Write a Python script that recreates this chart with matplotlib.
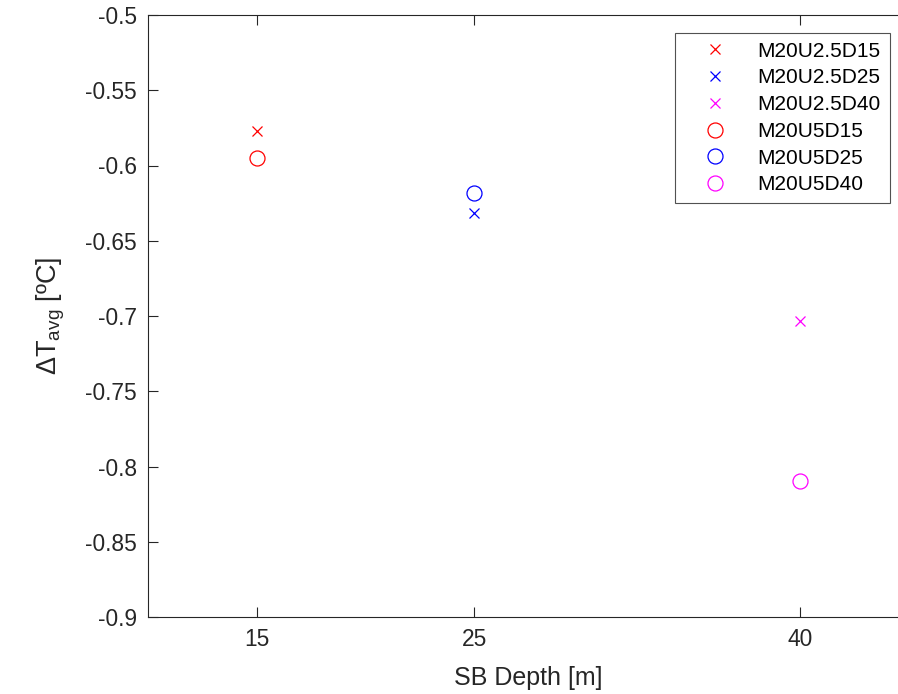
import matplotlib
matplotlib.use("Agg")
import matplotlib.pyplot as plt

plt.rcParams['font.family'] = ['Liberation Sans', 'DejaVu Sans']
plt.rcParams['mathtext.fontset'] = 'custom'
plt.rcParams['mathtext.rm'] = 'Liberation Sans'
plt.rcParams['mathtext.it'] = 'Liberation Sans'

depths = [15, 25, 40]
labels_x = ['M20U2.5D15', 'M20U2.5D25', 'M20U2.5D40']
labels_o = ['M20U5D15', 'M20U5D25', 'M20U5D40']
vals_x = [-0.5771, -0.6316, -0.7033]
vals_o = [-0.5950, -0.6183, -0.8096]
colors = ['#ff0000', '#0000ff', '#ff00ff']
yticks = [-0.9, -0.85, -0.8, -0.75, -0.7, -0.65, -0.6, -0.55, -0.5]
ytick_labels = ['-0.9', '-0.85', '-0.8', '-0.75', '-0.7', '-0.65', '-0.6', '-0.55', '-0.5']

W, H = 898, 694
fig = plt.figure(figsize=(W / 100, H / 100), dpi=100)
left, right, top, bottom = 148, 909, 15, 617
ax = fig.add_axes([left / W, 1 - bottom / H, (right - left) / W, (bottom - top) / H])

for d, v, c, lab in zip(depths, vals_x, colors, labels_x):
    ax.plot([d], [v], linestyle='none', marker='x', color=c, markersize=7.2,
            markeredgewidth=0.9, label=lab)
for d, v, c, lab in zip(depths, vals_o, colors, labels_o):
    ax.plot([d], [v], linestyle='none', marker='o', color=c, markersize=10.8,
            markerfacecolor='none', markeredgewidth=0.9, label=lab)

ax.set_xlim(10, 45)
ax.set_ylim(-0.9, -0.5)
ax.set_xticks(depths)
ax.set_xticklabels([str(d) for d in depths])
ax.set_yticks(yticks)
ax.set_yticklabels(ytick_labels)

axc = '#262626'
for s in ax.spines.values():
    s.set_color(axc)
    s.set_linewidth(0.8)
ax.tick_params(direction='in', length=7, width=0.8, colors=axc, labelsize=16.4,
               top=True, right=True, pad=8)
for lbl in ax.get_xticklabels() + ax.get_yticklabels():
    lbl.set_color('#262626')

ax.set_xlabel('SB Depth [m]', fontsize=18, color='#262626', labelpad=11)
ax.set_ylabel(r'$\Delta$T$_{\mathrm{avg}}$ [ºC]', fontsize=19.5, color='#262626', labelpad=13)

leg = ax.legend(loc='upper left', bbox_to_anchor=((675 - left) / (right - left), 1 - (33 - top) / (bottom - top)),
                fontsize=15, frameon=True, fancybox=False, edgecolor='#262626',
                borderpad=0.42, labelspacing=0.37, handletextpad=0.55, handlelength=3.0,
                borderaxespad=0)
leg.get_frame().set_linewidth(0.8)

fig.savefig('out.png', dpi=100)
